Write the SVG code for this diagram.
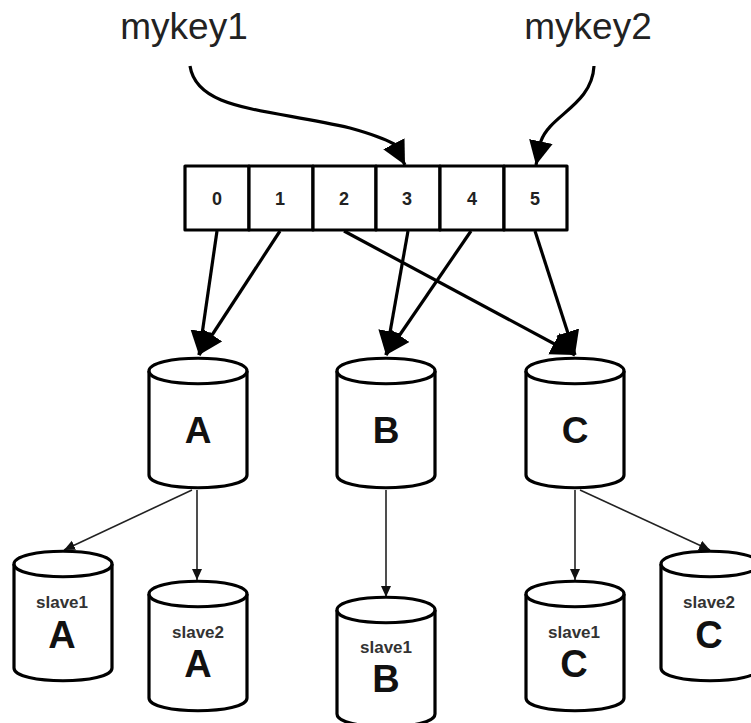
<svg xmlns="http://www.w3.org/2000/svg" width="751" height="723" viewBox="0 0 751 723">
<style>
text{font-family:"Liberation Sans",Arial,sans-serif;fill:#111;text-anchor:middle}
.k{font-size:37px;fill:#222}
.n{font-size:18px;font-weight:bold;fill:#222}
.s{font-size:17px;font-weight:bold;fill:#333}
.L{font-size:37px;font-weight:bold}
.M{font-size:38px;font-weight:bold}
.c{fill:#fff;stroke:#000;stroke-width:3.2;stroke-linejoin:round}
.cell{fill:#fff;stroke:#000;stroke-width:3.2;stroke-linejoin:round}
.a{fill:none;stroke:#000;stroke-width:3.2}
.t{fill:none;stroke:#222;stroke-width:1.6}
</style>
<defs>
<marker id="big" markerUnits="userSpaceOnUse" markerWidth="28" markerHeight="28" refX="24" refY="12" orient="auto"><path d="M0 0L24 12L0 24Z" fill="#000"/></marker>
<marker id="small" markerUnits="userSpaceOnUse" markerWidth="14" markerHeight="14" refX="11" refY="5" orient="auto"><path d="M0 0L11 5L0 10Z" fill="#111"/></marker>
<g id="cyl"><path class="c" d="M0 13C0 -4 98 -4 98 13V117C98 134 0 134 0 117Z"/><path class="c" d="M0 13C0 30 98 30 98 13"/></g>
</defs>
<text class="k" x="184" y="39">mykey1</text>
<text class="k" x="588" y="39">mykey2</text>
<g id="connectors">
<path class="a" marker-end="url(#big)" d="M190 66C197 110 262 108 350 128C368 133 385 139 394 144L405 165"/>
<path class="a" marker-end="url(#big)" d="M594 66C592 105 550 115 541 141L536 165"/>
<path class="a" marker-end="url(#big)" d="M217 231L199 355"/>
<path class="a" marker-end="url(#big)" d="M280 231L199 355"/>
<path class="a" marker-end="url(#big)" d="M344 231L575 355"/>
<path class="a" marker-end="url(#big)" d="M408 231L386 355"/>
<path class="a" marker-end="url(#big)" d="M471 231L386 355"/>
<path class="a" marker-end="url(#big)" d="M535 231L575 355"/>
<path class="t" marker-end="url(#small)" d="M192 490L64 550"/>
<path class="t" marker-end="url(#small)" d="M197 490V580"/>
<path class="t" marker-end="url(#small)" d="M386 490V597"/>
<path class="t" marker-end="url(#small)" d="M575 490V580"/>
<path class="t" marker-end="url(#small)" d="M580 490L710 550"/>
</g>
<g id="ring">
<rect class="cell" x="185" y="166" width="64" height="64"/><rect class="cell" x="249" y="166" width="64" height="64"/><rect class="cell" x="313" y="166" width="63" height="64"/><rect class="cell" x="376" y="166" width="64" height="64"/><rect class="cell" x="440" y="166" width="64" height="64"/><rect class="cell" x="504" y="166" width="63" height="64"/>
<text class="n" x="217" y="205">0</text><text class="n" x="280" y="205">1</text><text class="n" x="344" y="205">2</text><text class="n" x="407" y="205">3</text><text class="n" x="472" y="205">4</text><text class="n" x="535" y="205">5</text>
</g>
<g id="masterA"><use href="#cyl" x="149" y="358"/><text class="L" x="198" y="443">A</text></g>
<g id="masterB"><use href="#cyl" x="337" y="358"/><text class="L" x="386" y="443">B</text></g>
<g id="masterC"><use href="#cyl" x="526" y="358"/><text class="L" x="575" y="443">C</text></g>
<g id="slave1A"><use href="#cyl" x="14" y="551"/><text class="s" x="62" y="608">slave1</text><text class="M" x="62" y="648">A</text></g>
<g id="slave2A"><use href="#cyl" x="149" y="581"/><text class="s" x="198" y="638">slave2</text><text class="M" x="198" y="677">A</text></g>
<g id="slave1B"><use href="#cyl" x="337" y="597"/><text class="s" x="386" y="653">slave1</text><text class="M" x="386" y="692">B</text></g>
<g id="slave1C"><use href="#cyl" x="526" y="581"/><text class="s" x="574" y="638">slave1</text><text class="M" x="574" y="677">C</text></g>
<g id="slave2C"><use href="#cyl" x="661" y="551"/><text class="s" x="709" y="608">slave2</text><text class="M" x="709" y="648">C</text></g>
</svg>
